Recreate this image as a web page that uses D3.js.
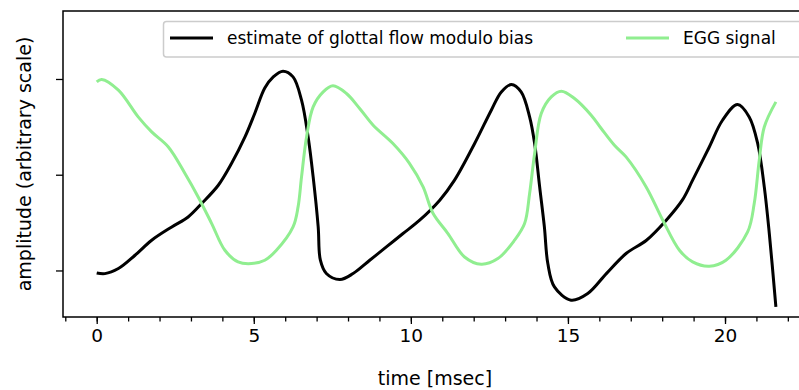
<!DOCTYPE html>
<html>
<head>
<meta charset="utf-8">
<script src="https://cdn.jsdelivr.net/npm/d3@7"></script>
<style>
  html, body { margin: 0; padding: 0; background: #fff; }
  svg text { font-family: "DejaVu Sans", sans-serif; fill: #000; }
</style>
</head>
<body>
<svg id="chart" width="799" height="390"></svg>
<script>
// time [msec]
const flowT = [0.0, 0.26, 0.69, 1.22, 1.75, 2.39, 2.91, 3.34, 3.87, 4.29, 4.72, 5.03, 5.35, 5.62, 5.93, 6.25, 6.52, 6.73, 6.89, 7.05, 7.12, 7.31, 7.74, 8.16, 8.69, 9.22, 9.75, 10.28, 10.92, 11.39, 12.03, 12.56, 12.88, 13.2, 13.51, 13.78, 13.94, 14.1, 14.25, 14.36, 14.57, 15.1, 15.63, 16.23, 16.86, 17.5, 18.13, 18.64, 18.97, 19.5, 19.92, 20.4, 20.77, 21.04, 21.25, 21.41, 21.62];
const flowV = [-1.026, -1.033, -0.98, -0.841, -0.684, -0.545, -0.441, -0.301, -0.11, 0.117, 0.395, 0.64, 0.905, 1.022, 1.082, 1.022, 0.778, 0.395, -0.023, -0.545, -0.893, -1.032, -1.095, -1.032, -0.893, -0.754, -0.614, -0.475, -0.266, -0.057, 0.326, 0.674, 0.865, 0.943, 0.865, 0.604, 0.326, -0.127, -0.545, -0.928, -1.172, -1.311, -1.241, -1.03, -0.82, -0.684, -0.475, -0.266, -0.057, 0.29, 0.569, 0.733, 0.604, 0.326, -0.127, -0.614, -1.381];
const eggT = [0.0, 0.16, 0.69, 1.32, 1.75, 2.28, 2.81, 3.23, 3.66, 4.08, 4.5, 4.93, 5.35, 5.72, 6.25, 6.41, 6.52, 6.68, 6.89, 7.21, 7.52, 7.95, 8.37, 8.8, 9.43, 9.96, 10.39, 10.7, 11.18, 11.71, 12.24, 12.77, 13.3, 13.62, 13.78, 13.94, 14.15, 14.47, 14.79, 15.21, 15.74, 16.06, 16.48, 16.85, 17.49, 18.02, 18.55, 18.97, 19.5, 20.03, 20.72, 20.93, 21.09, 21.25, 21.62];
const eggV = [0.97, 0.995, 0.883, 0.604, 0.447, 0.29, 0.013, -0.232, -0.51, -0.789, -0.911, -0.928, -0.893, -0.789, -0.545, -0.336, -0.023, 0.395, 0.708, 0.865, 0.928, 0.848, 0.692, 0.517, 0.326, 0.117, -0.127, -0.4, -0.614, -0.859, -0.935, -0.876, -0.684, -0.51, -0.196, 0.222, 0.64, 0.813, 0.873, 0.796, 0.622, 0.483, 0.308, 0.186, -0.127, -0.475, -0.789, -0.911, -0.956, -0.893, -0.598, -0.301, 0.152, 0.499, 0.761];

const majorTicks = [0, 5, 10, 15, 20];
const minorTicks = d3.range(-1, 23);
const yTicks = [-1, 0, 1];
const seriesNames = ["estimate of glottal flow modulo bias", "EGG signal"];
const seriesColors = ["#000000", "#90ee90"];

const svg = d3.select("#chart");
const L = 63, T = 11, B = 317, R = 807;
const x = d3.scaleLinear().domain([-1.073, 22.61]).range([L, R]);
const y = d3.scaleLinear().domain([-1.486, 1.71]).range([B, T]);

const line = d3.line().x(d => x(d[0])).y(d => y(d[1])).curve(d3.curveCatmullRom.alpha(0.5));

const flow = flowT.map((t, i) => [t, flowV[i]]);
const egg = eggT.map((t, i) => [t, eggV[i]]);

svg.append("path").datum(flow).attr("d", line)
  .attr("fill", "none").attr("stroke", seriesColors[0]).attr("stroke-width", 3)
  .attr("stroke-linejoin", "round").attr("stroke-linecap", "butt");
svg.append("path").datum(egg).attr("d", line)
  .attr("fill", "none").attr("stroke", seriesColors[1]).attr("stroke-width", 3)
  .attr("stroke-linejoin", "round").attr("stroke-linecap", "butt");

// axes
const xMinor = svg.append("g").attr("transform", `translate(0,${B})`)
  .call(d3.axisBottom(x).tickValues(minorTicks).tickSize(4.5).tickFormat(""));
const xMajor = svg.append("g").attr("transform", `translate(0,${B})`)
  .call(d3.axisBottom(x).tickValues(majorTicks).tickSize(7).tickPadding(5).tickFormat(d3.format("d")));
const yAx = svg.append("g").attr("transform", `translate(${L},0)`)
  .call(d3.axisLeft(y).tickValues(yTicks).tickSize(7).tickFormat(""));
[xMinor, xMajor, yAx].forEach(g => {
  g.select(".domain").remove();
  g.selectAll(".tick line").attr("stroke", "#000").attr("stroke-width", 1.3);
});
xMajor.selectAll(".tick text").attr("font-size", 18.5).attr("font-family", "DejaVu Sans").attr("fill", "#000");

// spines
svg.append("path")
  .attr("d", `M${R},${T}H${L}V${B}H${R}`)
  .attr("fill", "none").attr("stroke", "#000").attr("stroke-width", 1.5);

// axis labels
svg.append("text").attr("x", (L + R) / 2).attr("y", 385)
  .attr("text-anchor", "middle").attr("font-size", 19).text("time [msec]");
svg.append("text").attr("transform", `translate(31,${(T + B) / 2}) rotate(-90)`)
  .attr("text-anchor", "middle").attr("font-size", 19).text("amplitude (arbitrary scale)");

// legend
const lg = svg.append("g");
lg.append("rect").attr("x", 163.5).attr("y", 21.5).attr("width", 640).attr("height", 35.5)
  .attr("rx", 3).attr("fill", "#fff").attr("fill-opacity", 0.8)
  .attr("stroke", "#cccccc").attr("stroke-width", 1.5);
const legX = [170, 626];
seriesNames.forEach((n, i) => {
  lg.append("line").attr("x1", legX[i]).attr("x2", legX[i] + 43).attr("y1", 38).attr("y2", 38)
    .attr("stroke", seriesColors[i]).attr("stroke-width", 3);
  lg.append("text").attr("x", legX[i] + 57).attr("y", 44).attr("font-size", 17).text(n);
});
</script>
</body>
</html>
